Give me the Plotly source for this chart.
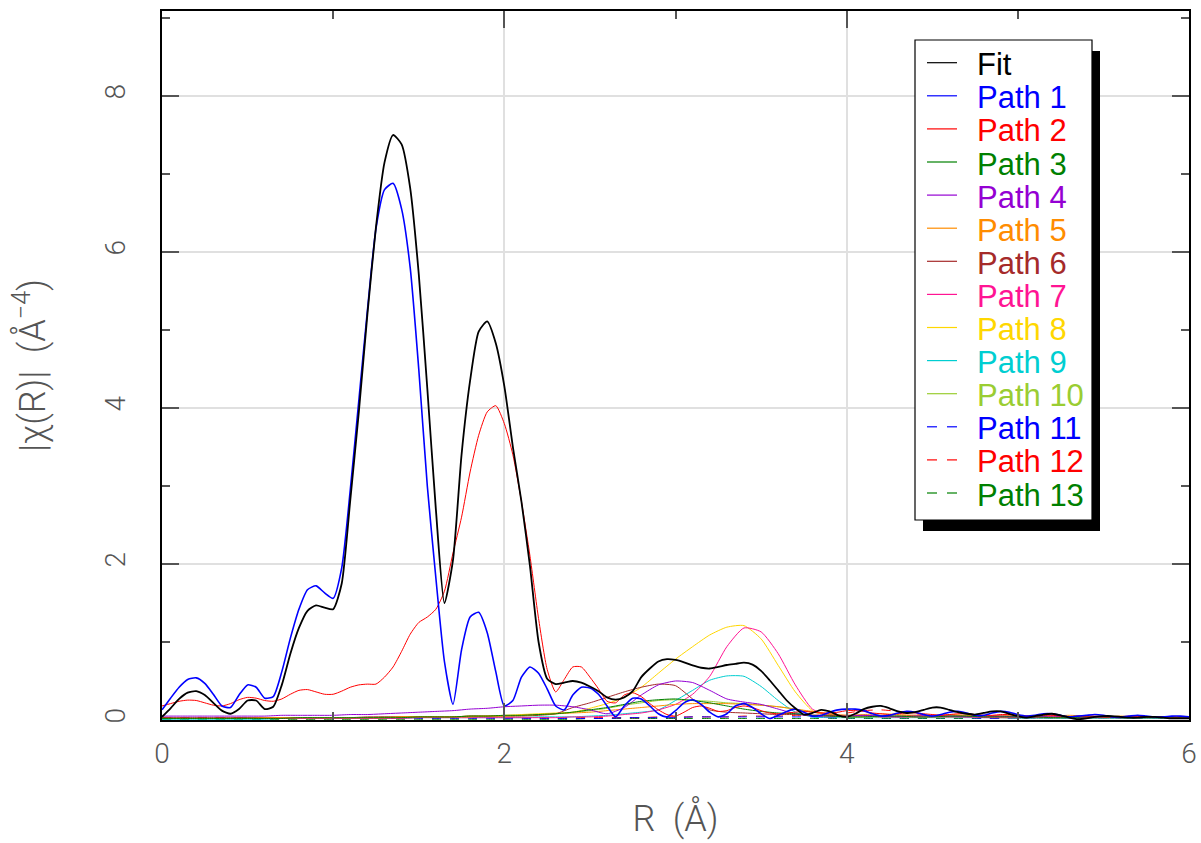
import plotly.graph_objects as go

# ---------------- data ----------------
r_fine = [round(i * 0.05, 2) for i in range(121)]
r_coarse = [round(i * 0.1, 1) for i in range(61)]

fit = [0.04, 0.15, 0.27, 0.35, 0.37, 0.32, 0.22, 0.12, 0.08, 0.14,
       0.25, 0.25, 0.14, 0.17, 0.45, 0.85, 1.18, 1.40, 1.47, 1.44,
       1.42, 1.75, 2.82, 3.95, 5.20, 6.32, 7.15, 7.50, 7.38, 6.82,
       5.72, 4.25, 2.70, 1.50, 2.05, 3.40, 4.35, 4.98, 5.11, 4.83,
       4.28, 3.50, 2.80, 1.97, 1.00, 0.53, 0.46, 0.48, 0.50, 0.48,
       0.43, 0.37, 0.29, 0.26, 0.29, 0.37, 0.55, 0.66, 0.75, 0.78,
       0.77, 0.74, 0.70, 0.67, 0.66, 0.68, 0.705, 0.72, 0.735, 0.71,
       0.63, 0.51, 0.38, 0.25, 0.15, 0.07, 0.09, 0.13, 0.11, 0.06,
       0.04, 0.08, 0.14, 0.17, 0.18, 0.15, 0.11, 0.09, 0.10, 0.13,
       0.16, 0.16, 0.13, 0.10, 0.08, 0.07, 0.09, 0.11, 0.11, 0.08,
       0.05, 0.03, 0.05, 0.07, 0.08, 0.06, 0.03, 0.01, 0.02, 0.04,
       0.05, 0.05, 0.04, 0.03, 0.03, 0.04, 0.04, 0.03, 0.02, 0.02,
       0.02]

path1 = [0.13, 0.28, 0.42, 0.52, 0.54, 0.47, 0.33, 0.18, 0.16, 0.32,
         0.45, 0.42, 0.28, 0.30, 0.62, 1.05, 1.42, 1.67, 1.72, 1.63,
         1.56, 1.95, 2.95, 4.10, 5.25, 6.30, 6.80, 6.88, 6.55, 5.80,
         4.50, 3.00, 1.82, 0.75, 0.20, 0.90, 1.32, 1.38, 1.12, 0.62,
         0.18, 0.25, 0.55, 0.68, 0.60, 0.40, 0.18, 0.13, 0.32, 0.42,
         0.41, 0.33, 0.18, 0.04, 0.18, 0.28, 0.27, 0.18, 0.08, 0.04,
         0.12, 0.22, 0.26, 0.20, 0.10, 0.04, 0.08, 0.18, 0.21, 0.16,
         0.08, 0.02, 0.06, 0.11, 0.14, 0.10, 0.05, 0.06, 0.10, 0.13,
         0.14, 0.14, 0.12, 0.08, 0.05, 0.06, 0.09, 0.11, 0.10, 0.07,
         0.05, 0.07, 0.10, 0.11, 0.09, 0.06, 0.06, 0.09, 0.11, 0.10,
         0.07, 0.05, 0.06, 0.08, 0.08, 0.06, 0.04, 0.05, 0.06, 0.07,
         0.06, 0.04, 0.04, 0.05, 0.06, 0.05, 0.04, 0.04, 0.05, 0.05,
         0.04]

path2 = [0.18, 0.21, 0.24, 0.255, 0.25, 0.22, 0.19, 0.18, 0.21, 0.26,
         0.29, 0.28, 0.25, 0.24, 0.27, 0.33, 0.38, 0.39, 0.36, 0.33,
         0.33, 0.37, 0.42, 0.45, 0.46, 0.46, 0.55, 0.68, 0.88, 1.10,
         1.25, 1.32, 1.42, 1.65, 2.14, 2.60, 3.18, 3.65, 3.95, 4.03,
         3.80, 3.40, 2.80, 2.10, 1.30, 0.65, 0.36, 0.52, 0.68, 0.68,
         0.55, 0.40, 0.24, 0.22, 0.32, 0.35, 0.30, 0.21, 0.13, 0.07,
         0.05, 0.10, 0.16, 0.18, 0.15, 0.11, 0.12, 0.16, 0.18, 0.16,
         0.12, 0.09, 0.08, 0.09, 0.10, 0.11, 0.10, 0.09, 0.09, 0.10,
         0.12, 0.12, 0.11, 0.09, 0.08, 0.07, 0.08, 0.09, 0.09, 0.08,
         0.07, 0.06, 0.07, 0.08, 0.08, 0.07, 0.06, 0.06, 0.07, 0.07,
         0.06, 0.05, 0.05, 0.06, 0.06, 0.05, 0.04, 0.05, 0.05, 0.05,
         0.04, 0.04, 0.04, 0.05, 0.05, 0.04, 0.04, 0.04, 0.04, 0.04,
         0.04]

path3 = [0.02, 0.02, 0.02, 0.02, 0.02, 0.02, 0.02, 0.02, 0.03, 0.03,
         0.03, 0.03, 0.03, 0.03, 0.03, 0.04, 0.04, 0.04, 0.05, 0.05,
         0.06, 0.06, 0.07, 0.08, 0.10, 0.13, 0.16, 0.20, 0.24, 0.26,
         0.27, 0.25, 0.22, 0.18, 0.14, 0.11, 0.09, 0.08, 0.06, 0.05,
         0.04, 0.04, 0.05, 0.05, 0.04, 0.04, 0.05, 0.05, 0.04, 0.04,
         0.04, 0.04, 0.03, 0.03, 0.04, 0.04, 0.03, 0.03, 0.03, 0.03,
         0.03]

path4 = [0.05, 0.05, 0.05, 0.05, 0.05, 0.05, 0.05, 0.06, 0.06, 0.06,
         0.06, 0.07, 0.07, 0.08, 0.09, 0.10, 0.11, 0.12, 0.14, 0.15,
         0.17, 0.18, 0.19, 0.19, 0.17, 0.13, 0.08, 0.16, 0.32, 0.45,
         0.50, 0.48, 0.38, 0.27, 0.23, 0.20, 0.14, 0.08, 0.05, 0.04,
         0.05, 0.06, 0.05, 0.04, 0.05, 0.06, 0.05, 0.04, 0.05, 0.05,
         0.04, 0.04, 0.05, 0.04, 0.04, 0.04, 0.03, 0.04, 0.04, 0.03,
         0.03]

path5 = [0.02, 0.02, 0.02, 0.02, 0.02, 0.02, 0.03, 0.03, 0.03, 0.03,
         0.03, 0.03, 0.03, 0.03, 0.04, 0.04, 0.04, 0.04, 0.04, 0.05,
         0.05, 0.06, 0.07, 0.08, 0.09, 0.10, 0.12, 0.14, 0.16, 0.18,
         0.20, 0.21, 0.21, 0.21, 0.20, 0.19, 0.17, 0.14, 0.11, 0.08,
         0.06, 0.07, 0.08, 0.07, 0.06, 0.06, 0.07, 0.06, 0.05, 0.06,
         0.06, 0.05, 0.05, 0.06, 0.05, 0.04, 0.05, 0.04, 0.04, 0.04,
         0.04]

path6 = [0.03, 0.03, 0.03, 0.03, 0.03, 0.03, 0.03, 0.03, 0.03, 0.03,
         0.03, 0.03, 0.04, 0.04, 0.04, 0.04, 0.04, 0.04, 0.05, 0.05,
         0.05, 0.05, 0.06, 0.08, 0.16, 0.22, 0.29, 0.36, 0.42, 0.46,
         0.44, 0.27, 0.13, 0.10, 0.09, 0.08, 0.07, 0.07, 0.06, 0.06,
         0.06, 0.06, 0.05, 0.05, 0.06, 0.05, 0.05, 0.05, 0.04, 0.05,
         0.05, 0.04, 0.04, 0.04, 0.04, 0.04, 0.03, 0.04, 0.04, 0.03,
         0.03]

path7 = [0.02, 0.02, 0.02, 0.02, 0.02, 0.02, 0.02, 0.02, 0.02, 0.02,
         0.02, 0.02, 0.02, 0.02, 0.02, 0.03, 0.03, 0.03, 0.03, 0.03,
         0.03, 0.03, 0.03, 0.03, 0.04, 0.04, 0.05, 0.07, 0.09, 0.13,
         0.20, 0.33, 0.56, 0.94, 1.18, 1.13, 0.85, 0.45, 0.14, 0.06,
         0.05, 0.05, 0.04, 0.04, 0.04, 0.04, 0.04, 0.04, 0.03, 0.03,
         0.03, 0.03, 0.03, 0.03, 0.03, 0.03, 0.03, 0.03, 0.03, 0.03,
         0.03]

path8 = [0.02, 0.02, 0.02, 0.02, 0.02, 0.02, 0.02, 0.02, 0.03, 0.03,
         0.03, 0.03, 0.03, 0.03, 0.04, 0.04, 0.04, 0.04, 0.05, 0.05,
         0.06, 0.07, 0.08, 0.09, 0.10, 0.15, 0.21, 0.29, 0.42, 0.60,
         0.78, 0.94, 1.09, 1.19, 1.21, 1.04, 0.70, 0.36, 0.12, 0.05,
         0.04, 0.04, 0.04, 0.04, 0.04, 0.04, 0.04, 0.04, 0.04, 0.03,
         0.03, 0.03, 0.03, 0.03, 0.03, 0.03, 0.03, 0.03, 0.03, 0.03,
         0.03]

path9 = [0.01, 0.01, 0.01, 0.01, 0.01, 0.01, 0.01, 0.02, 0.02, 0.02,
         0.02, 0.02, 0.02, 0.02, 0.02, 0.03, 0.03, 0.03, 0.03, 0.03,
         0.03, 0.03, 0.04, 0.04, 0.04, 0.05, 0.06, 0.08, 0.10, 0.13,
         0.25, 0.38, 0.51, 0.565, 0.56, 0.43, 0.25, 0.10, 0.04, 0.03,
         0.03, 0.03, 0.03, 0.03, 0.03, 0.03, 0.03, 0.03, 0.03, 0.03,
         0.02, 0.02, 0.02, 0.02, 0.02, 0.02, 0.02, 0.02, 0.02, 0.02,
         0.02]

path10 = [0.02, 0.02, 0.02, 0.02, 0.02, 0.03, 0.03, 0.03, 0.03, 0.03,
          0.03, 0.03, 0.03, 0.04, 0.04, 0.04, 0.04, 0.04, 0.05, 0.05,
          0.05, 0.06, 0.07, 0.08, 0.10, 0.12, 0.15, 0.19, 0.22, 0.25,
          0.26, 0.25, 0.24, 0.22, 0.21, 0.19, 0.17, 0.14, 0.10, 0.07,
          0.05, 0.05, 0.05, 0.05, 0.04, 0.04, 0.05, 0.04, 0.04, 0.04,
          0.04, 0.04, 0.03, 0.03, 0.03, 0.03, 0.03, 0.03, 0.03, 0.03,
          0.03]

path11 = [0.02, 0.02, 0.02, 0.02, 0.02, 0.02, 0.02, 0.02, 0.02, 0.02,
          0.02, 0.02, 0.02, 0.02, 0.02, 0.02, 0.02, 0.02, 0.02, 0.02,
          0.02, 0.02, 0.02, 0.02, 0.02, 0.02, 0.02, 0.03, 0.03, 0.03,
          0.03, 0.04, 0.04, 0.04, 0.04, 0.04, 0.04, 0.04, 0.04, 0.03,
          0.03, 0.03, 0.03, 0.03, 0.03, 0.03, 0.03, 0.03, 0.02, 0.02,
          0.02, 0.02, 0.02, 0.02, 0.02, 0.02, 0.02, 0.02, 0.02, 0.02,
          0.02]

path12 = [0.03, 0.03, 0.03, 0.03, 0.03, 0.03, 0.03, 0.03, 0.03, 0.03,
          0.03, 0.03, 0.03, 0.03, 0.03, 0.03, 0.03, 0.03, 0.03, 0.03,
          0.03, 0.03, 0.03, 0.03, 0.03, 0.03, 0.03, 0.03, 0.03, 0.04,
          0.04, 0.04, 0.04, 0.04, 0.05, 0.05, 0.05, 0.06, 0.06, 0.07,
          0.09, 0.12, 0.13, 0.11, 0.08, 0.06, 0.05, 0.05, 0.05, 0.04,
          0.04, 0.04, 0.04, 0.04, 0.04, 0.03, 0.03, 0.03, 0.03, 0.03,
          0.03]

path13 = [0.01, 0.01, 0.01, 0.01, 0.01, 0.01, 0.01, 0.01, 0.01, 0.01,
          0.01, 0.01, 0.01, 0.01, 0.01, 0.01, 0.01, 0.01, 0.01, 0.01,
          0.01, 0.01, 0.01, 0.01, 0.01, 0.02, 0.02, 0.02, 0.02, 0.02,
          0.02, 0.02, 0.02, 0.02, 0.02, 0.02, 0.02, 0.02, 0.02, 0.02,
          0.02, 0.02, 0.02, 0.02, 0.02, 0.02, 0.02, 0.02, 0.02, 0.02,
          0.02, 0.02, 0.02, 0.02, 0.02, 0.02, 0.02, 0.02, 0.02, 0.02,
          0.02]

series_names = ["Fit", "Path 1", "Path 2", "Path 3", "Path 4", "Path 5", "Path 6",
                "Path 7", "Path 8", "Path 9", "Path 10", "Path 11", "Path 12", "Path 13"]
series_values = [fit, path1, path2, path3, path4, path5, path6,
                 path7, path8, path9, path10, path11, path12, path13]
series_colors = ["#000000", "#0000ff", "#ff0000", "#008000", "#9400d3", "#ff8c00",
                 "#a52a2a", "#ff1493", "#ffd700", "#00ced1", "#9acd32",
                 "#0000ff", "#ff0000", "#008000"]
series_dash = ["solid"] * 11 + ["dash"] * 3
series_width = [1.8, 1.6] + [1.0] * 12

x_ticks = [0, 2, 4, 6]
y_ticks = [0, 2, 4, 6, 8]

# ---------------- figure ----------------
W, H = 1201, 843
ML, MR, MT, MB = 162, 12, 11, 123
PW, PH = W - ML - MR, H - MT - MB


def px_to_paper(px, py):
    return (px - ML) / PW, 1 - (py - MT) / PH


fig = go.Figure()
for i in range(13, -1, -1):
    xs = r_fine if len(series_values[i]) == len(r_fine) else r_coarse
    fig.add_trace(go.Scatter(
        x=xs, y=series_values[i], mode="lines", name=series_names[i],
        line=dict(color=series_colors[i], width=series_width[i],
                  dash=series_dash[i], shape="spline", smoothing=0.6),
        showlegend=False,
    ))

tick_font = dict(family="Roboto, Lato, DejaVu Sans", size=28, color="#555555", weight=300)
title_font = dict(family="Roboto, Lato, DejaVu Sans", size=36, color="#555555", weight=300)

fig.update_layout(
    width=W, height=H,
    margin=dict(l=ML, r=MR, t=MT, b=MB, autoexpand=False),
    paper_bgcolor="white", plot_bgcolor="white",
    showlegend=False,
    xaxis=dict(
        range=[0, 6], tickvals=x_ticks, ticktext=[str(v) for v in x_ticks],
        ticks="inside", ticklen=17, tickwidth=2, tickcolor="#555555",
        minor=dict(dtick=1, ticks="inside", ticklen=8, tickwidth=2, tickcolor="#555555", showgrid=False),
        showgrid=True, gridcolor="#e0e0e0", gridwidth=1.5,
        showline=True, linecolor="black", linewidth=1.5, mirror="ticks",
        zeroline=False, tickfont=tick_font, ticklabelstandoff=8, automargin=False,
        title=dict(text="R  (Å)", font=title_font, standoff=36),
    ),
    yaxis=dict(
        range=[0, 9.09], tickvals=y_ticks, ticktext=[str(v) for v in y_ticks],
        ticks="inside", ticklen=17, tickwidth=2, tickcolor="#555555",
        minor=dict(dtick=1, ticks="inside", ticklen=8, tickwidth=2, tickcolor="#555555", showgrid=False),
        showgrid=True, gridcolor="#e0e0e0", gridwidth=1.5,
        showline=True, linecolor="black", linewidth=1.5, mirror="ticks",
        zeroline=False, tickfont=tick_font, tickangle=-90, ticklabelstandoff=24, automargin=False,
        title=dict(text="|χ(R)|  (Å<sup>−4</sup>)", font=title_font, standoff=42),
    ),
)

# ---- legend box with drop shadow (drawn in paper coordinates) ----
box_l, box_t, box_r, box_b = 915, 40, 1092, 520
sh_dx, sh_dy = 8, 11
x0, y1 = px_to_paper(box_l + sh_dx, box_t + sh_dy)
x1, y0 = px_to_paper(box_r + sh_dx, box_b + sh_dy)
fig.add_shape(type="rect", xref="paper", yref="paper", x0=x0, x1=x1, y0=y0, y1=y1,
              fillcolor="black", line=dict(width=0), layer="above")
x0, y1 = px_to_paper(box_l, box_t)
x1, y0 = px_to_paper(box_r, box_b)
fig.add_shape(type="rect", xref="paper", yref="paper", x0=x0, x1=x1, y0=y0, y1=y1,
              fillcolor="white", line=dict(color="black", width=1.2), layer="above")

row0, row_step = 62.7, 33.1
for k, name in enumerate(series_names):
    py = row0 + k * row_step
    lx0, ly = px_to_paper(927, py)
    lx1, _ = px_to_paper(957, py)
    if series_dash[k] == "dash":
        # two short dashes like the reference key
        for a, b in ((927, 937), (947, 957)):
            sx0, _ = px_to_paper(a, py)
            sx1, _ = px_to_paper(b, py)
            fig.add_shape(type="line", xref="paper", yref="paper", x0=sx0, x1=sx1, y0=ly, y1=ly,
                          line=dict(color=series_colors[k], width=1.2), layer="above")
    else:
        fig.add_shape(type="line", xref="paper", yref="paper", x0=lx0, x1=lx1, y0=ly, y1=ly,
                      line=dict(color=series_colors[k], width=1.2), layer="above")
    tx, ty = px_to_paper(975, py + 2)
    fig.add_annotation(x=tx, y=ty, xref="paper", yref="paper", text=name,
                       showarrow=False, xanchor="left", yanchor="middle",
                       font=dict(family="Liberation Sans, Arial", size=31, color=series_colors[k]))

fig.write_html("out.html", config={"displayModeBar": False},
               post_script="document.body.style.margin='0';")
